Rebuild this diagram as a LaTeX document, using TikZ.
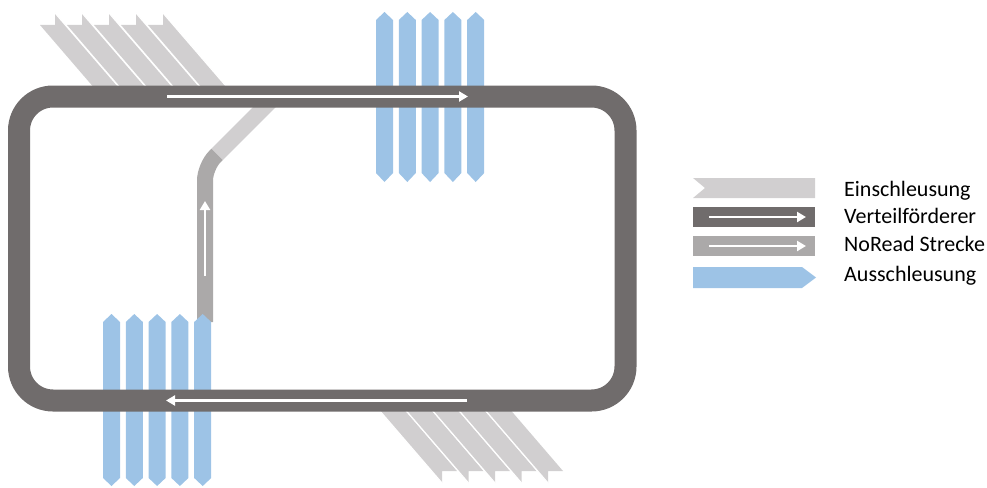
\documentclass[tikz,border=0pt]{standalone}
\usepackage{fontspec}
\setmainfont{Carlito}
\usepackage{xcolor}
\usetikzlibrary{arrows.meta, positioning}

\definecolor{bandgray}{RGB}{112,108,108}
\definecolor{feedgray}{RGB}{209,207,208}
\definecolor{noreadgray}{RGB}{171,169,169}
\definecolor{outblue}{RGB}{157,195,230}

\begin{document}
\begin{tikzpicture}[
    x=1pt, y=-1pt,
    band/.style={draw=bandgray, line width=22pt, rounded corners=34pt},
    feed/.style={fill=feedgray},
    outlet/.style={fill=outblue},
    noread/.style={draw=noreadgray, line width=16pt, rounded corners=14pt},
    flow/.style={draw=white, line width=2.8pt, -{Triangle[length=9pt, width=10pt]}},
    legtext/.style={anchor=base west, inner sep=0pt, font=\fontsize{22}{26}\selectfont}
]
\useasboundingbox (0,0) rectangle (987,487);

% Einschleusung oben links
\foreach \i in {0,...,4} {
  \pgfmathsetmacro{\xo}{40+27*\i}
  \fill[feed] (\xo,25) -- (\xo+15,25) -- (\xo+15,13) -- (\xo+86.6,96) -- (\xo+61.1,96) -- cycle;
  \draw[white, line width=1.2pt] (\xo+15,13) -- (\xo+86.6,96);
}
% Einschleusung unten rechts
\foreach \i in {0,...,4} {
  \pgfmathsetmacro{\xr}{457+26.5*\i}
  \fill[feed] (\xr,471) -- (\xr-15,471) -- (\xr-15,483) -- (\xr-85.7,401) -- (\xr-60.2,401) -- cycle;
  \draw[white, line width=1.2pt] (\xr-15,483) -- (\xr-85.7,401);
}

% NoRead Strecke
\coordinate (nrBottom) at (205,322);
\coordinate (nrCorner) at (205,166.5);
\coordinate (nrJoin) at (217,154.5);
\coordinate (nrTop) at (276,95.5);
\draw[draw=feedgray, line width=16pt] (nrJoin) -- (nrTop);
\draw[noread] (nrBottom) -- (nrCorner) -- (nrJoin);

% Ausschleusung
\foreach \i in {0,...,4} {
  \pgfmathsetmacro{\xa}{376+22.8*\i}
  \fill[outlet] (\xa,20) -- (\xa+8.5,12) -- (\xa+17,20) -- (\xa+17,173) -- (\xa+8.5,182) -- (\xa,173) -- cycle;
  \pgfmathsetmacro{\xb}{103+22.8*\i}
  \fill[outlet] (\xb,322) -- (\xb+8.5,314) -- (\xb+17,322) -- (\xb+17,478) -- (\xb+8.5,486) -- (\xb,478) -- cycle;
}

% Verteilfoerderer
\draw[band] (19,96.5) rectangle (625.5,400.5);

\coordinate (topStart) at (167,96.5);
\coordinate (topEnd) at (468,96.5);
\coordinate (botStart) at (467,400.5);
\coordinate (botEnd) at (166,400.5);
\coordinate (nrStart) at (205,276);
\coordinate (nrEnd) at (205,201);
\draw[flow] (topStart) -- (topEnd);
\draw[flow] (botStart) -- (botEnd);
\draw[flow] (nrStart) -- (nrEnd);

% Legende
\fill[feed] (693,178) -- (815,178) -- (815,198) -- (693,198) -- (705,188) -- cycle;
\fill[bandgray] (693,207) rectangle (815,227);
\fill[noreadgray] (693,236) rectangle (815,256);
\fill[outlet] (693,267) -- (802,267) -- (816,277.5) -- (802,288) -- (693,288) -- cycle;
\coordinate (legA1) at (709,217);
\coordinate (legA2) at (806,217);
\coordinate (legB1) at (709,246);
\coordinate (legB2) at (806,246);
\draw[flow] (legA1) -- (legA2);
\draw[flow] (legB1) -- (legB2);

\node[legtext] (einText) at (844,196) {Einschleusung};
\node[legtext] (vertText) at (844,223) {Verteilförderer};
\node[legtext] (norText) at (844,251) {NoRead Strecke};
\node[legtext] (ausText) at (844,281) {Ausschleusung};

\end{tikzpicture}
\end{document}
